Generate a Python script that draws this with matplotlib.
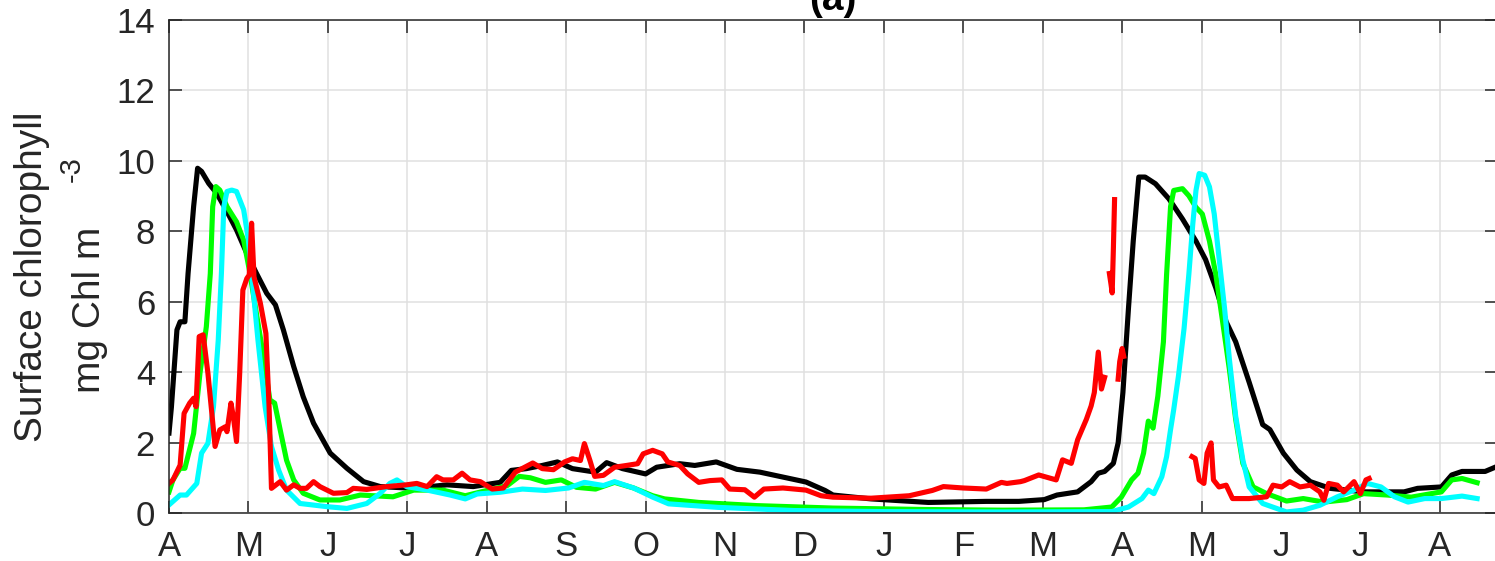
import numpy as np
import matplotlib
matplotlib.use("Agg")
from matplotlib import pyplot as plt

nan = np.nan

# x in months since 1 April (year 1); y in mg Chl m-3
months = ['A', 'M', 'J', 'J', 'A', 'S', 'O', 'N', 'D', 'J', 'F', 'M', 'A', 'M', 'J', 'J', 'A']

black_x = [0.0, 0.03, 0.1, 0.14, 0.2, 0.24, 0.31, 0.36, 0.41, 0.5, 0.6, 0.73, 0.85, 0.98, 1.1, 1.23,
           1.34, 1.44, 1.57, 1.69, 1.82, 2.03, 2.24, 2.45, 2.66, 3.08, 3.5, 3.83, 4.17, 4.31, 4.5,
           4.7, 4.89, 5.08, 5.37, 5.51, 5.71, 6.0, 6.14, 6.43, 6.62, 6.89, 7.15, 7.44, 7.73, 8.02,
           8.26, 8.36, 8.84, 9.56, 10.29, 10.7, 11.02, 11.18, 11.44, 11.61, 11.7, 11.78, 11.89,
           11.95, 12.01, 12.08, 12.14, 12.21, 12.29, 12.42, 12.59, 12.76, 12.93, 13.05, 13.18,
           13.31, 13.43, 13.6, 13.77, 13.86, 14.03, 14.2, 14.37, 14.62, 15.04, 15.55, 15.72,
           16.02, 16.15, 16.28, 16.57, 16.76]
black_y = [2.27, 3.0, 5.2, 5.43, 5.43, 6.8, 8.7, 9.79, 9.7, 9.36, 9.08, 8.56, 8.04, 7.37, 6.81, 6.24,
           5.91, 5.2, 4.16, 3.3, 2.55, 1.7, 1.27, 0.89, 0.75, 0.7, 0.8, 0.75, 0.87, 1.21, 1.26,
           1.35, 1.45, 1.26, 1.16, 1.43, 1.26, 1.11, 1.3, 1.4, 1.35, 1.45, 1.24, 1.16, 1.02, 0.88,
           0.64, 0.51, 0.4, 0.3, 0.33, 0.33, 0.38, 0.51, 0.6, 0.89, 1.13, 1.18, 1.41,
           1.99, 3.42, 5.81, 7.72, 9.54, 9.54, 9.35, 8.92, 8.35, 7.72, 7.2, 6.39,
           5.43, 4.86, 3.71, 2.51, 2.37, 1.7, 1.22, 0.89, 0.7, 0.6, 0.6, 0.7,
           0.74, 1.08, 1.18, 1.18, 1.36]

green_x = [0.0, 0.05, 0.14, 0.2, 0.31, 0.39, 0.47, 0.52, 0.55, 0.59, 0.64, 0.73, 0.85, 0.94, 1.02,
           1.1, 1.19, 1.27, 1.33, 1.4, 1.48, 1.57, 1.69, 1.9, 2.15, 2.41, 2.82, 3.08, 3.45, 3.73,
           4.02, 4.26, 4.41, 4.55, 4.74, 4.94, 5.13, 5.37, 5.61, 5.85, 6.09, 6.24, 6.67, 7.4,
           8.36, 9.5, 10.5, 11.52, 11.87, 11.99, 12.12, 12.2, 12.27, 12.33, 12.39, 12.45, 12.52,
           12.56, 12.61, 12.65, 12.76, 12.84, 12.93, 13.01, 13.1, 13.18, 13.26, 13.35, 13.43,
           13.52, 13.65, 13.82, 14.07, 14.28, 14.54, 14.83, 15.04, 15.34, 15.64, 16.02, 16.15,
           16.28, 16.47]
green_y = [0.6, 0.94, 1.27, 1.27, 2.26, 3.97, 5.29, 6.8, 8.7, 9.27, 9.17, 8.7, 8.27, 7.75, 6.8,
           5.67, 4.44, 3.21, 3.12, 2.36, 1.5, 0.94, 0.56, 0.37, 0.37, 0.51, 0.46, 0.65, 0.65, 0.49,
           0.65, 0.78, 1.04, 1.0, 0.87, 0.94, 0.73, 0.68, 0.87, 0.71, 0.49, 0.4, 0.3, 0.21,
           0.14, 0.1, 0.08, 0.09, 0.17, 0.45, 0.94, 1.13, 1.7, 2.61, 2.41, 3.32, 4.86,
           6.77, 8.7, 9.16, 9.21, 9.01, 8.68, 8.49, 7.72, 6.77, 5.52, 4.09, 2.66,
           1.41, 0.74, 0.55, 0.34, 0.41, 0.31, 0.38, 0.55, 0.51, 0.45, 0.6, 0.94,
           0.98, 0.86]

cyan_x = [0.0, 0.14, 0.22, 0.35, 0.41, 0.49, 0.56, 0.62, 0.66, 0.69, 0.73, 0.79, 0.85, 0.94, 1.0,
          1.06, 1.12, 1.21, 1.29, 1.38, 1.48, 1.65, 1.99, 2.24, 2.49, 2.66, 2.78, 2.87, 2.99, 3.25,
          3.54, 3.73, 3.88, 4.17, 4.45, 4.74, 5.03, 5.23, 5.47, 5.61, 5.85, 6.09, 6.29, 6.91,
          7.87, 9.0, 10.5, 11.87, 12.08, 12.25, 12.33, 12.4, 12.5, 12.56, 12.61, 12.65, 12.71,
          12.78, 12.84, 12.89, 12.93, 12.97, 13.04, 13.1, 13.16, 13.22, 13.29, 13.35, 13.43,
          13.52, 13.6, 13.77, 14.07, 14.28, 14.49, 14.71, 14.92, 15.09, 15.26, 15.43, 15.6,
          15.81, 16.02, 16.28, 16.47]
cyan_y = [0.23, 0.51, 0.51, 0.84, 1.7, 1.98, 3.02, 4.91, 6.81, 8.7, 9.13, 9.17, 9.13, 8.61, 7.75,
          6.33, 4.91, 3.02, 1.89, 1.22, 0.65, 0.27, 0.18, 0.13, 0.27, 0.56, 0.84, 0.94, 0.75, 0.65,
          0.51, 0.4, 0.54, 0.59, 0.68, 0.64, 0.71, 0.87, 0.78, 0.89, 0.71, 0.45, 0.26, 0.16,
          0.07, 0.04, 0.03, 0.04, 0.17, 0.41, 0.65, 0.55, 1.03, 1.6, 2.37, 2.94, 3.9,
          5.24, 6.77, 8.21, 9.16, 9.64, 9.59, 9.26, 8.49, 7.25, 5.81, 4.38, 2.75,
          1.51, 0.74, 0.27, 0.03, 0.08, 0.22, 0.46, 0.65, 0.84, 0.74, 0.46, 0.31,
          0.41, 0.41, 0.48, 0.41]

# red has gaps (missing data)
red_x = [0.0, 0.05, 0.14, 0.19, 0.26, 0.31, 0.34, 0.38, 0.43, 0.49, 0.58, 0.64, 0.71, 0.73, 0.78,
         0.81, 0.85, 0.89, 0.93, 0.98, 1.01, 1.04, 1.07, 1.15, 1.22, 1.26, 1.29, 1.4, 1.48, 1.57,
         1.65, 1.73, 1.82, 1.9, 1.99, 2.07, 2.24, 2.32, 2.49, 2.74, 2.99, 3.12, 3.25, 3.37, 3.45,
         3.58, 3.69, 3.79, 3.92, 4.07, 4.21, 4.36, 4.58, 4.7, 4.84, 4.98, 5.08, 5.18, 5.23,
         5.3, 5.36, 5.47, 5.61, 5.76, 5.9, 5.97, 6.09, 6.21, 6.28, 6.43, 6.53, 6.67, 6.81, 6.96,
         7.06, 7.25, 7.37, 7.49, 7.73, 8.02, 8.21, 8.36, 8.84, 9.32, 9.61, 9.75, 10.0, 10.29,
         10.48, 10.55, 10.72, 10.77, 10.95, 11.17, 11.25, 11.36, 11.44, 11.55, 11.61, 11.65,
         11.7, 11.74, 11.78, nan,
         11.84, 11.86, 11.875, 11.89, 11.905, nan,
         11.95, 11.97, 12.0, 12.02, nan,
         12.88, 12.92, 12.97, 13.03, 13.07, 13.12, 13.15, 13.22, 13.31, 13.39, 13.6, 13.82,
         13.9, 14.01, 14.11, 14.24, 14.37, 14.49, 14.54, 14.6, 14.71, 14.79, 14.92, 15.0,
         15.07, 15.11]
red_y = [0.84, 0.94, 1.36, 2.83, 3.12, 3.26, 3.02, 5.01, 5.06, 3.97, 1.89, 2.36, 2.45, 2.31, 3.12,
         2.74, 2.03, 3.97, 6.33, 6.66, 6.76, 8.23, 6.71, 5.96, 5.1, 3.02, 0.7, 0.89, 0.65, 0.8,
         0.7, 0.7, 0.89, 0.75, 0.65, 0.56, 0.58, 0.7, 0.67, 0.75, 0.8, 0.84, 0.75, 1.03, 0.94,
         0.94, 1.13, 0.94, 0.89, 0.68, 0.71, 1.16, 1.42, 1.26, 1.23, 1.45, 1.54, 1.49, 1.97,
         1.49, 1.04, 1.07, 1.3, 1.35, 1.4, 1.68, 1.78, 1.68, 1.45, 1.35, 1.11, 0.87, 0.92, 0.94,
         0.68, 0.66, 0.45, 0.68, 0.71, 0.65, 0.49, 0.45, 0.42, 0.49, 0.64, 0.75, 0.71, 0.68,
         0.87, 0.84, 0.89, 0.92, 1.08, 0.94, 1.51, 1.41, 2.08, 2.66, 3.04, 3.42,
         4.57, 3.52, 3.85, nan,
         6.8, 6.5, 6.25, 7.5, 8.9, nan,
         3.8, 4.3, 4.67, 4.45, nan,
         1.6, 1.55, 0.94, 0.84, 1.7, 1.99, 0.94, 0.74, 0.79, 0.41, 0.41, 0.46,
         0.79, 0.74, 0.89, 0.74, 0.79, 0.6, 0.36, 0.84, 0.79, 0.6, 0.89, 0.55,
         0.94, 0.98]

plt.rcParams['font.family'] = ['Liberation Sans', 'DejaVu Sans']

W, H = 1495, 561
fig = plt.figure(figsize=(W / 100, H / 100), dpi=100)
ax = fig.add_axes([169 / W, 1 - 513 / H, (1497 - 169) / W, (513 - 20) / H])

lw = 3.7
ax.plot(black_x, black_y, color='k', lw=lw)
ax.plot(green_x, green_y, color=(0, 1, 0), lw=lw)
ax.plot(cyan_x, cyan_y, color=(0, 1, 1), lw=lw)
ax.plot(red_x, red_y, color=(1, 0, 0), lw=lw)

ax.set_xlim(0, 16.72)
ax.set_ylim(0, 14)
ax.set_xticks(range(len(months)))
ax.set_xticklabels(months)
ax.set_yticks(range(0, 15, 2))
ax.grid(True, color='0.88', lw=1.1)
ax.set_axisbelow(True)
ax.tick_params(direction='in', length=9, width=1.1, color='0.15', labelcolor='0.15',
               labelsize=25, top=True, right=True)
ax.tick_params(axis='x', pad=12)
ax.tick_params(axis='y', pad=10)
for s in ax.spines.values():
    s.set_color('0.15')
    s.set_linewidth(1.1)

ax.set_title('(a)', fontsize=28, fontweight='bold', pad=7, color='k')

# two-line y label, MATLAB style superscript
fig.text(42 / W, 1 - 277 / H, 'Surface chlorophyll', rotation=90, rotation_mode='anchor',
         fontsize=28, color='0.15', ha='center', va='baseline')
fig.text(100 / W, 1 - 310 / H, 'mg Chl m', rotation=90, rotation_mode='anchor',
         fontsize=28, color='0.15', ha='center', va='baseline')
fig.text(80 / W, 1 - 156 / H, '-3', rotation=90, rotation_mode='anchor',
         fontsize=21, color='0.15', ha='right', va='baseline')

fig.savefig('out.png', dpi=100)
